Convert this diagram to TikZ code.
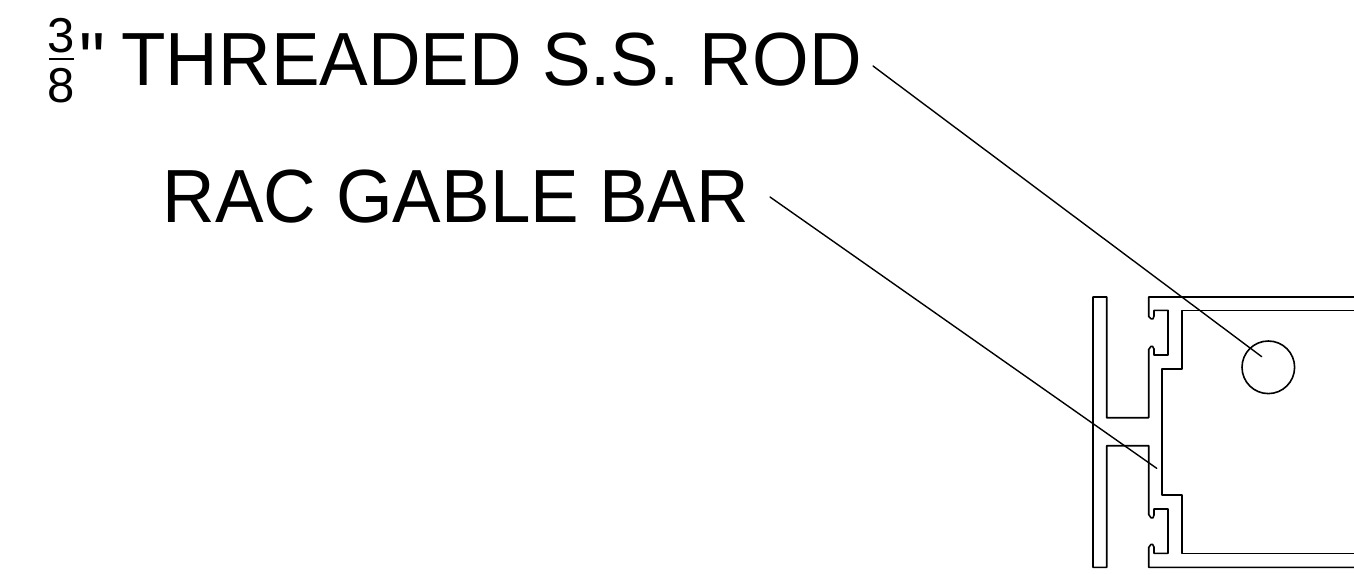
\documentclass[tikz,border=0pt]{standalone}
\usepackage{fontspec}
\setmainfont{Liberation Sans}
\newfontfamily\plainsans{Liberation Sans}
\newcommand{\tallcaps}[1]{\scalebox{1}[1.035]{#1}}
\tikzset{
  lbl/.style={anchor=base west,inner sep=0pt,outer sep=0pt,font=\fontsize{72.8}{80}\selectfont,text=black},
  frac/.style={anchor=base west,inner sep=0pt,outer sep=0pt,font=\fontsize{49}{52}\selectfont,text=black},
  part/.style={draw=black,line width=1.6pt,line join=round,line cap=round},
  leader/.style={draw=black,line width=1.4pt,line cap=round}
}
\begin{document}
\begin{tikzpicture}[x=1pt,y=-1pt]
\useasboundingbox (0,0) rectangle (1354,575);
\fill[white] (0,0) rectangle (1354,575);
% labels
\node[frac] (num) at (47,52.8) {3};
\node[frac] (den) at (47,102.8) {8};
\node[lbl] (inch) at (79,85.5) {\plainsans\tallcaps{"}};
\node[lbl] (rod) at (121.5,85.5) {\tallcaps{THREADED S.S. ROD}};
\node[lbl] (bar) at (162.5,222.5) {\tallcaps{RAC GABLE BAR}};
\coordinate (barL) at (49,59.3);
\coordinate (barR) at (74,59.3);
\draw[black,line width=1.6pt] (barL) -- (barR);
% profile
\draw[part] (1354,297) -- (1148.7,297) -- (1148.7,316.5) -- (1151,318.8) -- (1153,318.8) -- (1154,316)
  -- (1154,310.3) -- (1168,310.3) -- (1168,355) -- (1154,355) -- (1154,349) -- (1152.5,346.3) -- (1151,346.3)
  -- (1148.7,349.5) -- (1148.7,417.7) -- (1106.7,417.7) -- (1106.7,297) -- (1093,297) -- (1093,567.3)
  -- (1106.7,567.3) -- (1106.7,445.7) -- (1148.7,445.7) -- (1148.7,514.5) -- (1151,517.8) -- (1153,517.8)
  -- (1154,515) -- (1154,509) -- (1168,509) -- (1168,553.3) -- (1154,553.3) -- (1154,547) -- (1152.5,544.3)
  -- (1151,544.3) -- (1148.7,547.5) -- (1148.7,567.3) -- (1354,567.3);
\draw[part] (1354,310.3) -- (1182,310.3) -- (1182,369) -- (1162,369) -- (1162,495) -- (1182,495)
  -- (1182,553.3) -- (1354,553.3);
\node[draw=black,line width=1.6pt,circle,minimum size=52.6pt,inner sep=0pt,outer sep=0pt] (hole) at (1268.3,367.3) {};
% leaders
\coordinate (rodStart) at (873,66);
\coordinate (rodEnd) at (1261.7,356.7);
\coordinate (barStart) at (770,197);
\coordinate (barEnd) at (1156.7,468.3);
\draw[leader] (rodStart) -- (rodEnd);
\draw[leader] (barStart) -- (barEnd);
\end{tikzpicture}
\end{document}
